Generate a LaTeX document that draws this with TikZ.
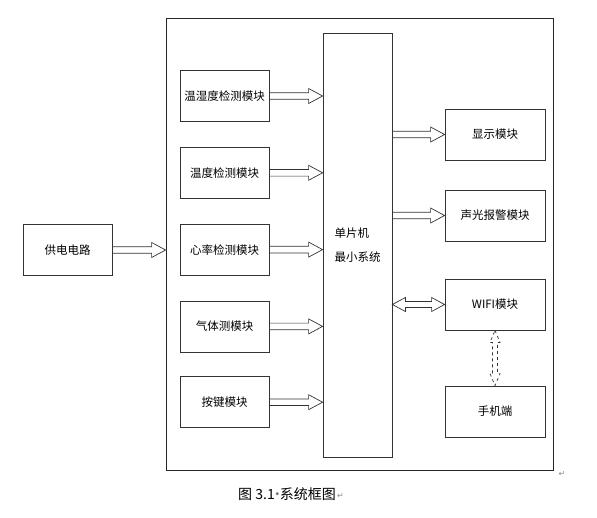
\documentclass[tikz,border=0pt]{standalone}
\usepackage{fontspec}
\setmainfont{Noto Sans CJK SC}
\newfontfamily\symfont{DejaVu Sans}
\usetikzlibrary{positioning, calc}
\tikzset{
  modbox/.style={rectangle, draw=black!80, line width=0.8pt, fill=white, inner sep=0pt,
              minimum width=89pt, minimum height=51pt, font=\fontsize{11.5}{24}\selectfont, align=center},
  outbox/.style={modbox, minimum width=100pt},
  hollowarrow/.style={draw=black!80, line width=0.7pt, to path={
      let \p1=(\tikztostart), \p2=(\tikztotarget) in
      (\x1,\y1+3.3pt) -- (\x2-14pt,\y1+3.3pt) -- (\x2-14pt,\y1+7.5pt) -- (\x2,\y1)
      -- (\x2-14pt,\y1-7.5pt) -- (\x2-14pt,\y1-3.3pt) -- (\x1,\y1-3.3pt) -- cycle}},
  dblarrow/.style={draw=black!80, line width=0.7pt, to path={
      let \p1=(\tikztostart), \p2=(\tikztotarget) in
      (\x1,\y1) -- (\x1+13pt,\y1+7pt) -- (\x1+13pt,\y1+3pt) -- (\x2-13pt,\y1+3pt)
      -- (\x2-13pt,\y1+7pt) -- (\x2,\y1) -- (\x2-13pt,\y1-7pt) -- (\x2-13pt,\y1-3pt)
      -- (\x1+13pt,\y1-3pt) -- (\x1+13pt,\y1-7pt) -- cycle}},
  linkarrow/.style={draw=black!80, line width=0.7pt, dashed, to path={
      let \p1=(\tikztostart), \p2=(\tikztotarget) in
      (\x1,\y1) -- (\x1+5pt,\y1-12pt) -- (\x1+2.5pt,\y1-12pt) -- (\x1+2.5pt,\y2+12pt)
      -- (\x1+5pt,\y2+12pt) -- (\x1,\y2) -- (\x1-5pt,\y2+12pt) -- (\x1-2.5pt,\y2+12pt)
      -- (\x1-2.5pt,\y1-12pt) -- (\x1-5pt,\y1-12pt) -- cycle}},
  markgray/.style={text=black!45, inner sep=0pt, font=\symfont\fontsize{8}{8}\selectfont},
}

\begin{document}
\begin{tikzpicture}[x=1pt, y=-1pt]
  \useasboundingbox (0,0) rectangle (597,517);
  % system frame
  \node[draw=black!85, line width=0.8pt, minimum width=387pt, minimum height=452pt, inner sep=0pt] (sys) at (359.5,244) {};
  \node[modbox] (pwr) at (67.5,250) {供电电路};
  % sensor column
  \node[modbox] (hum) at (224.5,96) {温湿度检测模块};
  \node[modbox, below=25pt of hum] (temp) {温度检测模块};
  \node[modbox, below=25pt of temp] (heart) {心率检测模块};
  \node[modbox, below=25pt of heart] (gas) {气体测模块};
  \node[modbox, below=24pt of gas] (key) {按键模块};
  % controller
  \node[modbox, minimum width=69pt, minimum height=424pt, align=left] (mcu) at (357.5,245) {单片机\\最小系统};
  % outputs
  \node[outbox] (disp) at (495,134.5) {显示模块};
  \node[outbox] (alarm) at (495,215.5) {声光报警模块};
  \node[outbox] (wifi) at (495,304.5) {WIFI模块};
  \node[outbox] (phone) at (495,411.5) {手机端};
  % arrows
  \draw[hollowarrow] (pwr.east) to (sys.west |- pwr.east);
  \foreach \m in {hum, temp, heart, gas, key}
    \draw[hollowarrow] (\m.east) to (mcu.west |- \m.east);
  \draw[hollowarrow] (mcu.east |- disp.west) to (disp.west);
  \draw[hollowarrow] (mcu.east |- alarm.west) to (alarm.west);
  \draw[dblarrow] (mcu.east |- wifi.west) to (wifi.west);
  \draw[linkarrow] (wifi.south) to (phone.north);
  % caption
  \node[anchor=west, inner sep=0pt, font=\fontsize{14}{14}\selectfont] (cap) at (238,494)
    {图 3.1\textcolor{black!55}{\kern-4.5pt·\kern-4.5pt}系统框图};
  \node[markgray, anchor=west] (capmark) at ([xshift=1pt, yshift=-2pt]cap.east) {↵};
  \node[markgray, anchor=west] (sysmark) at ([xshift=5pt, yshift=-4pt]sys.south east) {↵};
\end{tikzpicture}
\end{document}
